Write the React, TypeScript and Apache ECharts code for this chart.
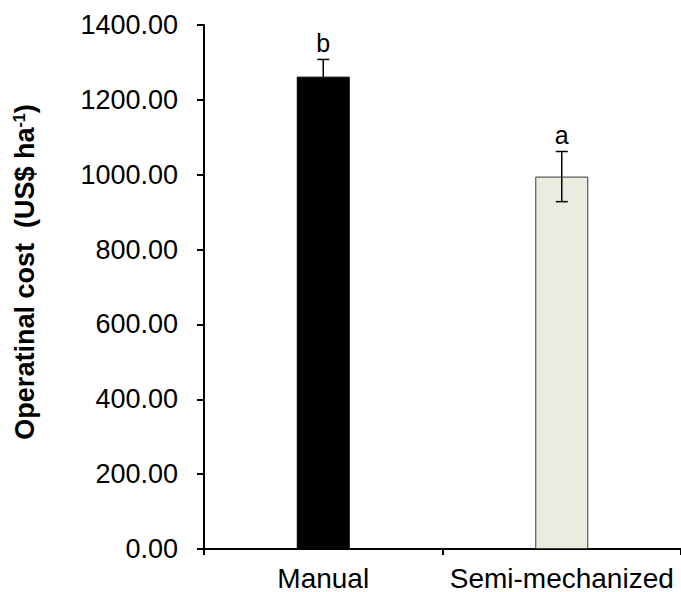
import React, { useEffect, useRef } from "react";
import * as echarts from "echarts";

const categories = ["Manual", "Semi-mechanized"];
const costValues = [1262, 995];
const errorValues = [46, 67];
const letters = ["b", "a"];
const barColors = ["#000000", "#ECEBE0"];
const yTicks = { min: 0, max: 1400, interval: 200 };
const yTitle = "{b|Operatinal cost  (US$ ha}{sup|-1}{b|)}";

export default function App() {
  const ref = useRef<HTMLDivElement>(null);
  useEffect(() => {
    if (!ref.current) return;
    const chart = echarts.init(ref.current, undefined, { renderer: "svg" });
    const font = "Liberation Sans, Arial, sans-serif";
    chart.setOption({
      animation: false,
      grid: { left: 204, top: 25, width: 482, bottom: 43, containLabel: false },
      graphic: [
        {
          type: "text",
          x: 25,
          y: 272,
          rotation: Math.PI / 2,
          style: {
            text: yTitle,
            align: "center",
            verticalAlign: "middle",
            rich: {
              b: { fontSize: 27, fontWeight: "bold", fontFamily: font, fill: "#000" },
              sup: {
                fontSize: 16,
                fontWeight: "bold",
                fontFamily: font,
                fill: "#000",
                verticalAlign: "top",
                padding: [0, 0, 10, 0],
              },
            },
          },
        },
      ],
      xAxis: {
        type: "category",
        data: categories,
        axisLine: { lineStyle: { color: "#000", width: 2 } },
        axisTick: { show: true, length: 6, lineStyle: { color: "#000", width: 2 } },
        axisLabel: {
          color: "#000",
          fontSize: 28,
          fontFamily: font,
          margin: 15,
          interval: 0,
          hideOverlap: false,
        },
      },
      yAxis: {
        type: "value",
        min: yTicks.min,
        max: yTicks.max,
        interval: yTicks.interval,
        splitLine: { show: false },
        axisLine: { show: true, lineStyle: { color: "#000", width: 2 } },
        axisTick: { show: true, length: 7, lineStyle: { color: "#000", width: 2 } },
        axisLabel: {
          color: "#000",
          fontSize: 27,
          fontFamily: font,
          margin: 26,
          formatter: (v: number) => v.toFixed(2),
        },
      },
      series: [
        {
          type: "bar",
          barWidth: 53,
          data: costValues.map((v, i) => ({
            value: v,
            itemStyle: {
              color: barColors[i],
              borderColor: i === 0 ? "#000" : "#3a3a3a",
              borderWidth: 1,
            },
          })),
        },
        {
          type: "custom",
          data: costValues.map((v, i) => [i, v, errorValues[i]]),
          renderItem: (params: any, api: any) => {
            const idx = api.value(0);
            const v = api.value(1);
            const e = api.value(2);
            const letter = letters[params.dataIndex];
            const top = api.coord([idx, v + e]);
            const bot = api.coord([idx, v - e]);
            const hw = 6;
            const st = { stroke: "#000", lineWidth: 1.5 };
            return {
              type: "group",
              children: [
                { type: "line", shape: { x1: top[0], y1: top[1], x2: bot[0], y2: bot[1] }, style: st },
                { type: "line", shape: { x1: top[0] - hw, y1: top[1], x2: top[0] + hw, y2: top[1] }, style: st },
                { type: "line", shape: { x1: bot[0] - hw, y1: bot[1], x2: bot[0] + hw, y2: bot[1] }, style: st },
                {
                  type: "text",
                  style: {
                    text: letter,
                    x: top[0],
                    y: top[1] - 4,
                    align: "center",
                    verticalAlign: "bottom",
                    fontSize: 25,
                    fontFamily: font,
                    fill: "#000",
                  },
                },
              ],
            };
          },
          z: 5,
        },
      ],
    });
    return () => chart.dispose();
  }, []);
  return (
    <div
      ref={ref}
      style={{ position: "absolute", left: 0, top: 0, width: 681, height: 592, background: "#fff" }}
    />
  );
}
